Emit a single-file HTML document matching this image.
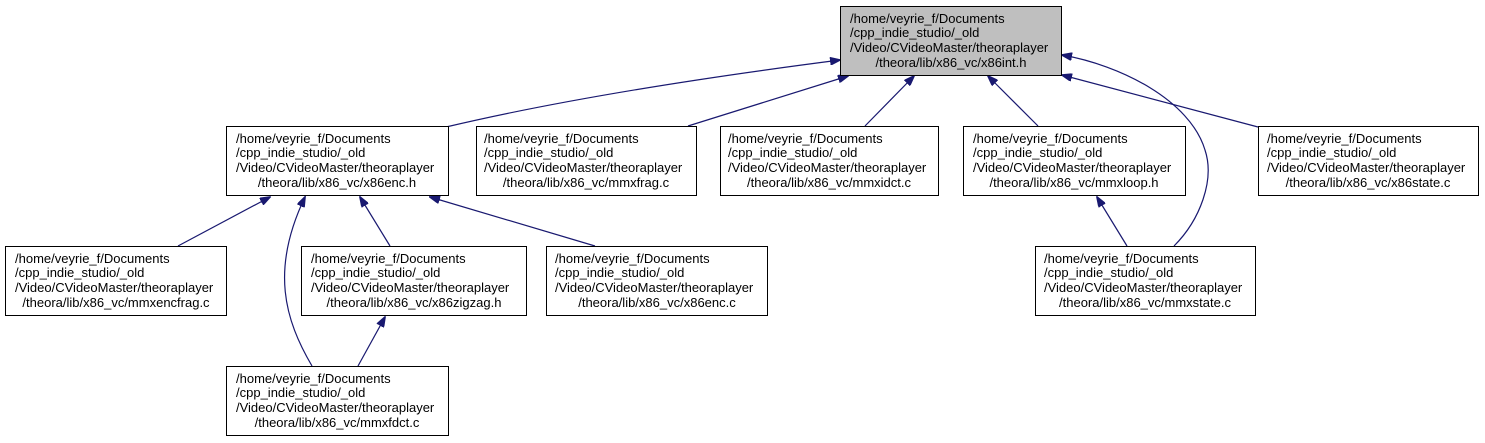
<!DOCTYPE html>
<html><head><meta charset="utf-8"><style>
html,body{margin:0;padding:0;background:#fff;}
svg{display:block;}
text{font-family:"Liberation Sans",sans-serif;font-size:13px;fill:#000;}
</style></head><body>
<svg width="1485" height="443" viewBox="0 0 1485 443" xmlns="http://www.w3.org/2000/svg">
<defs>
<marker id="a" markerWidth="11" markerHeight="8" refX="10" refY="4" orient="auto" markerUnits="userSpaceOnUse">
<path d="M0,0 L11,4 L0,8 Z" fill="#191970" stroke="#191970"/>
</marker>
</defs>
<g fill="none" stroke="#191970" stroke-width="1.2" marker-end="url(#a)">
<path d="M446,127 C560,100 700,78 840,60"/>
<path d="M688,126 L848,76"/>
<path d="M865,126 L914,76"/>
<path d="M1038,126 L988,76"/>
<path d="M1258,127 L1062,75"/>
<path d="M1174,246 C1200,220 1215,180 1205,150 C1190,100 1120,65 1062,55"/>
<path d="M178,246 L270,197"/>
<path d="M312,366 C285,320 270,270 305,197"/>
<path d="M390,246 L360,197"/>
<path d="M595,246 L430,197"/>
<path d="M358,366 L385,317"/>
<path d="M1127,246 L1097,197"/>
</g>
<g stroke="#000" stroke-width="1">
<rect x="840.5" y="6.5" width="221" height="69" fill="#bfbfbf"/>
<rect x="226.5" y="126.5" width="222" height="69" fill="#fff"/>
<rect x="476.5" y="126.5" width="220" height="69" fill="#fff"/>
<rect x="720.5" y="126.5" width="218" height="69" fill="#fff"/>
<rect x="963.5" y="126.5" width="222" height="69" fill="#fff"/>
<rect x="1258.5" y="126.5" width="220" height="69" fill="#fff"/>
<rect x="5.5" y="246.5" width="221" height="69" fill="#fff"/>
<rect x="301.5" y="246.5" width="225" height="69" fill="#fff"/>
<rect x="546.5" y="246.5" width="221" height="69" fill="#fff"/>
<rect x="1035.5" y="246.5" width="220" height="69" fill="#fff"/>
<rect x="226.5" y="366.5" width="222" height="69" fill="#fff"/>
</g>
<g>
<text x="850" y="23">/home/veyrie_f/Documents</text><text x="850" y="37">/cpp_indie_studio/_old</text><text x="850" y="52">/Video/CVideoMaster/theoraplayer</text><text x="951" y="67" text-anchor="middle">/theora/lib/x86_vc/x86int.h</text>

<text x="236" y="143">/home/veyrie_f/Documents</text><text x="236" y="157">/cpp_indie_studio/_old</text><text x="236" y="172">/Video/CVideoMaster/theoraplayer</text><text x="337" y="187" text-anchor="middle">/theora/lib/x86_vc/x86enc.h</text>

<text x="484" y="143">/home/veyrie_f/Documents</text><text x="484" y="157">/cpp_indie_studio/_old</text><text x="484" y="172">/Video/CVideoMaster/theoraplayer</text><text x="586" y="187" text-anchor="middle">/theora/lib/x86_vc/mmxfrag.c</text>

<text x="728" y="143">/home/veyrie_f/Documents</text><text x="728" y="157">/cpp_indie_studio/_old</text><text x="728" y="172">/Video/CVideoMaster/theoraplayer</text><text x="829" y="187" text-anchor="middle">/theora/lib/x86_vc/mmxidct.c</text>

<text x="973" y="143">/home/veyrie_f/Documents</text><text x="973" y="157">/cpp_indie_studio/_old</text><text x="973" y="172">/Video/CVideoMaster/theoraplayer</text><text x="1074" y="187" text-anchor="middle">/theora/lib/x86_vc/mmxloop.h</text>

<text x="1267" y="143">/home/veyrie_f/Documents</text><text x="1267" y="157">/cpp_indie_studio/_old</text><text x="1267" y="172">/Video/CVideoMaster/theoraplayer</text><text x="1368" y="187" text-anchor="middle">/theora/lib/x86_vc/x86state.c</text>

<text x="15" y="263">/home/veyrie_f/Documents</text><text x="15" y="277">/cpp_indie_studio/_old</text><text x="15" y="292">/Video/CVideoMaster/theoraplayer</text><text x="116" y="307" text-anchor="middle">/theora/lib/x86_vc/mmxencfrag.c</text>

<text x="311" y="263">/home/veyrie_f/Documents</text><text x="311" y="277">/cpp_indie_studio/_old</text><text x="311" y="292">/Video/CVideoMaster/theoraplayer</text><text x="414" y="307" text-anchor="middle">/theora/lib/x86_vc/x86zigzag.h</text>

<text x="555" y="263">/home/veyrie_f/Documents</text><text x="555" y="277">/cpp_indie_studio/_old</text><text x="555" y="292">/Video/CVideoMaster/theoraplayer</text><text x="657" y="307" text-anchor="middle">/theora/lib/x86_vc/x86enc.c</text>

<text x="1044" y="263">/home/veyrie_f/Documents</text><text x="1044" y="277">/cpp_indie_studio/_old</text><text x="1044" y="292">/Video/CVideoMaster/theoraplayer</text><text x="1145" y="307" text-anchor="middle">/theora/lib/x86_vc/mmxstate.c</text>

<text x="236" y="383">/home/veyrie_f/Documents</text><text x="236" y="397">/cpp_indie_studio/_old</text><text x="236" y="412">/Video/CVideoMaster/theoraplayer</text><text x="337" y="427" text-anchor="middle">/theora/lib/x86_vc/mmxfdct.c</text>
</g>
</svg>
</body></html>
